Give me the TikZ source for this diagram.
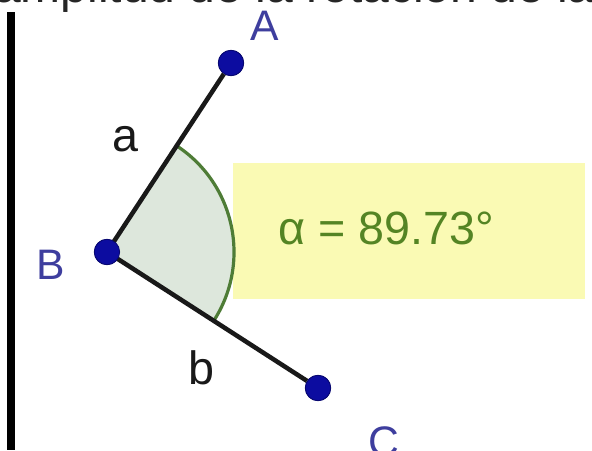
\documentclass[tikz,border=0pt]{standalone}
\usepackage{xcolor}
\usepackage{fontspec}
\setmainfont{Liberation Sans}
\usetikzlibrary{calc, positioning}
\definecolor{ptblue}{HTML}{0C0CA0}
\definecolor{lblblue}{HTML}{3E3E9E}
\definecolor{sectfill}{HTML}{DDE7DC}
\definecolor{arcgreen}{HTML}{4E7C36}
\definecolor{valyellow}{HTML}{FAFAB4}
\definecolor{valgreen}{HTML}{548424}
\tikzset{every node/.append style={align=center, inner sep=0pt}}

\begin{document}
\begin{tikzpicture}[
    x=0.75pt, y=0.75pt,
    pnt/.style={circle, fill=ptblue, draw=ptblue!70!black, line width=0.6pt,
        minimum size=19pt},
    plbl/.style={font=\fontsize{32}{38}\selectfont, text=lblblue},
    slbl/.style={font=\fontsize{35}{42}\selectfont, text=black!90},
    seg/.style={line width=3.4pt, black!90},
    valbox/.style={rectangle, fill=valyellow, minimum width=264pt, minimum height=102pt},
    val/.style={font=\fontsize{35}{42}\selectfont, text=valgreen}
]
\useasboundingbox (0,0) rectangle (592,450);
\clip (0,0) rectangle (592,450);
\fill[white] (0,0) rectangle (592,450);

% ===== cut-off heading and left rule =====
\node[anchor=base west, font=\fontsize{36}{43}\selectfont, text=black!85] (head)
    at (-6,447) {amplitud de la rotación de la};
\fill[black] (7,0) rectangle (15,438);

% ===== value box =====
\node[valbox] (box) at (408.5,219) {};

% ===== points =====
\node[pnt] (A) at (231,387) {};
\node[pnt] (B) at (107,198) {};
\node[pnt] (C) at (318,62) {};

% ===== angle sector =====
\fill[sectfill] (B.center) -- ++(-32.6:127)
    arc[start angle=-32.6, end angle=56.7, radius=127] -- cycle;
\draw[arcgreen, line width=2.4pt] ($(B.center)+(-32.6:127)$)
    arc[start angle=-32.6, end angle=56.7, radius=127];

% ===== segments =====
\draw[seg] (B.center) -- (A);
\draw[seg] (B.center) -- (C);
\node[pnt] at (B) {};
\node[pnt] at (A) {};
\node[pnt] at (C) {};

% ===== labels =====
\node[plbl] (lA) at (265,424) {A};
\node[plbl] (lB) at (51,185) {B};
\node[plbl] (lC) at (384,8) {C};
\node[slbl] (la) at (125,311) {a};
\node[slbl] (lb) at (201,82) {b};
\node[val] (alpha) at (386,221.5) {α = 89.73°};
\end{tikzpicture}
\end{document}
